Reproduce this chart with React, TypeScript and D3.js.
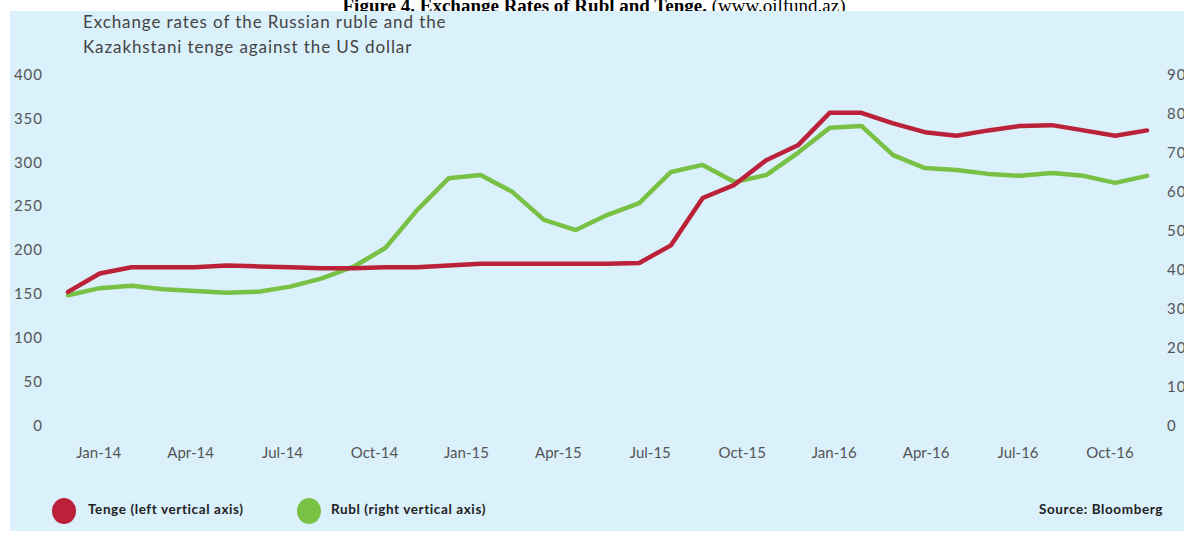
import * as d3 from 'd3'

const W = 1184
const H = 538

const MONTHS = [
  'Jan-14', 'Feb-14', 'Mar-14', 'Apr-14', 'May-14', 'Jun-14', 'Jul-14', 'Aug-14', 'Sep-14', 'Oct-14', 'Nov-14', 'Dec-14',
  'Jan-15', 'Feb-15', 'Mar-15', 'Apr-15', 'May-15', 'Jun-15', 'Jul-15', 'Aug-15', 'Sep-15', 'Oct-15', 'Nov-15', 'Dec-15',
  'Jan-16', 'Feb-16', 'Mar-16', 'Apr-16', 'May-16', 'Jun-16', 'Jul-16', 'Aug-16', 'Sep-16', 'Oct-16', 'Nov-16',
]

// tenge per USD (left axis)
const TENGE = [
  154, 175, 182, 182, 182, 184, 183, 182, 181, 181, 182, 182,
  184, 186, 186, 186, 186, 186, 187, 207, 261, 276, 304, 321,
  358, 358, 346, 336, 332, 338, 343, 344, 338, 332, 338,
]

// rubles per USD (right axis)
const RUBL = [
  33.8, 35.6, 36.2, 35.3, 34.9, 34.4, 34.7, 36.0, 38.1, 41.1, 45.9, 55.6,
  63.8, 64.6, 60.3, 53.1, 50.5, 54.4, 57.4, 65.4, 67.2, 62.8, 64.6, 70.3,
  76.7, 77.2, 69.7, 66.4, 65.9, 64.9, 64.4, 65.1, 64.4, 62.6, 64.4,
]

const X_LABELS = ['Jan-14', 'Apr-14', 'Jul-14', 'Oct-14', 'Jan-15', 'Apr-15', 'Jul-15', 'Oct-15', 'Jan-16', 'Apr-16', 'Jul-16', 'Oct-16']
const LEFT_TICKS = [0, 50, 100, 150, 200, 250, 300, 350, 400]
const RIGHT_TICKS = [0, 10, 20, 30, 40, 50, 60, 70, 80, 90]

const RED = '#bb2138'
const GREEN = '#78c144'
const FONT = 'Lato, "Open Sans", sans-serif'

export default function App() {
  const x = d3.scalePoint<string>().domain(MONTHS).range([68, 1147])
  const xLab = d3.scalePoint<string>().domain(X_LABELS).range([98.7, 1110])
  const yL = d3.scaleLinear().domain([0, 400]).range([427, 76])
  const yR = d3.scaleLinear().domain([0, 90]).range([427, 76])

  const tengeLine = d3
    .line<number>()
    .x((_d, i) => x(MONTHS[i]) ?? 0)
    .y((d) => yL(d))
  const rublLine = d3
    .line<number>()
    .x((_d, i) => x(MONTHS[i]) ?? 0)
    .y((d) => yR(d))

  return (
    <div style={{ position: 'fixed', left: 0, top: 0 }}>
      <svg width={W} height={H} style={{ display: 'block' }}>
        <rect width={W} height={H} fill="#fff" />
        <text x={594} y={12} textAnchor="middle" fontFamily='"Liberation Serif", "Times New Roman", serif' fontSize={19}>
          <tspan fontWeight="bold">Figure 4. Exchange Rates of Rubl and Tenge.</tspan>
          <tspan> (www.oilfund.az)</tspan>
        </text>
        <rect x={10} y={11} width={W - 10} height={520} fill="#daf0fb" />

        <g fontFamily={FONT} fontSize={17} fill="#444" letterSpacing={0.9}>
          <text x={83} y={28}>Exchange  rates of the Russian ruble and the</text>
          <text x={83} y={53}>Kazakhstani tenge against the US dollar</text>
        </g>

        <g fontFamily={FONT} fontSize={15} fill="#555" letterSpacing={1}>
          {LEFT_TICKS.map((t) => (
            <text key={t} x={43} y={yL(t)} textAnchor="end" dominantBaseline="middle">
              {t}
            </text>
          ))}
          {RIGHT_TICKS.map((t) => (
            <text key={t} x={1167} y={yR(t)} textAnchor="start" dominantBaseline="middle">
              {t}
            </text>
          ))}
        </g>
        <g fontFamily={FONT} fontSize={15} fill="#555">
          {X_LABELS.map((l) => (
            <text key={l} x={xLab(l)} y={454} textAnchor="middle" dominantBaseline="middle">
              {l}
            </text>
          ))}
        </g>

        <path d={rublLine(RUBL) ?? ''} fill="none" stroke={GREEN} strokeWidth={4.5} strokeLinejoin="round" strokeLinecap="round" />
        <path d={tengeLine(TENGE) ?? ''} fill="none" stroke={RED} strokeWidth={4.5} strokeLinejoin="round" strokeLinecap="round" />

        <g fontFamily={FONT} fontSize={13.5} fontWeight="bold" fill="#222" letterSpacing={0.6}>
          <ellipse cx={64} cy={511} rx={12} ry={13} fill={RED} />
          <text x={88} y={511} dominantBaseline="middle">Tenge (left vertical axis)</text>
          <ellipse cx={309} cy={511} rx={12} ry={13} fill={GREEN} />
          <text x={331} y={511} dominantBaseline="middle">Rubl (right vertical axis)</text>
          <text x={1163} y={511} textAnchor="end" dominantBaseline="middle">Source: Bloomberg</text>
        </g>
      </svg>
    </div>
  )
}
